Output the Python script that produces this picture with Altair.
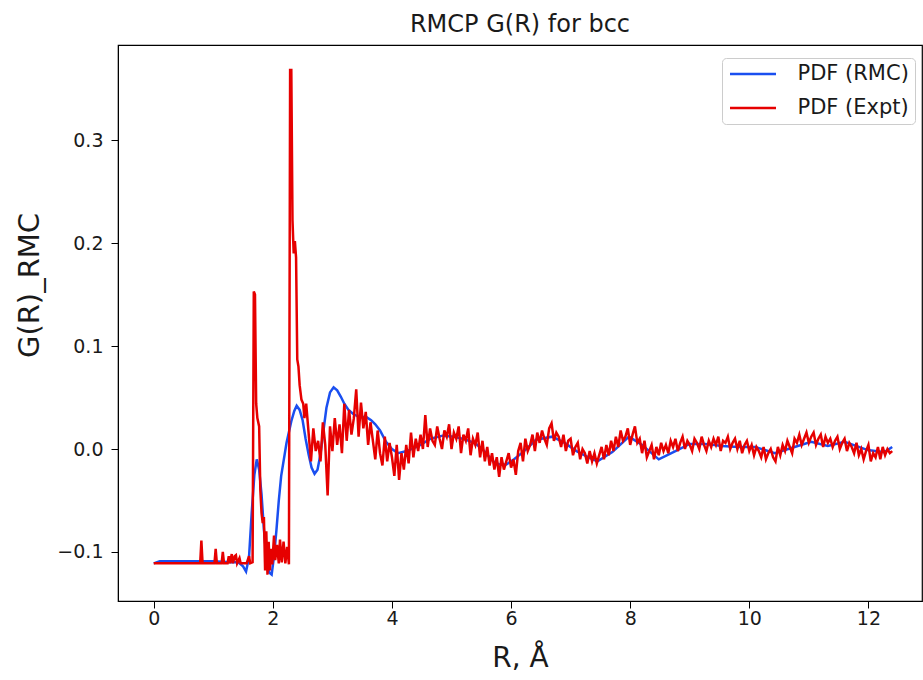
import altair as alt
import numpy as np
import pandas as pd

# ---- PDF (RMC): smooth model curve ----
rmc_r = [0.00, 0.10, 0.30, 0.60, 1.00, 1.30, 1.42, 1.50, 1.55, 1.60, 1.645, 1.69, 1.73, 1.77, 1.81,
         1.85, 1.89, 1.94, 1.98, 2.02, 2.06, 2.10, 2.14, 2.23, 2.31, 2.36, 2.40, 2.45, 2.50, 2.55,
         2.60, 2.65, 2.70, 2.75, 2.80, 2.85, 2.90, 2.96, 3.02, 3.08, 3.14, 3.20, 3.27, 3.35, 3.45,
         3.57, 3.65, 3.72, 3.80, 3.90, 4.00, 4.10, 4.25, 4.45, 4.65, 4.85, 5.05, 5.25, 5.41, 5.55,
         5.70, 5.80, 5.92, 6.05, 6.20, 6.42, 6.69, 6.90, 7.10, 7.30, 7.45, 7.70, 7.98, 8.20, 8.48,
         8.76, 9.00, 9.26, 9.54, 9.82, 10.10, 10.43, 10.76, 11.04, 11.32, 11.60, 11.99, 12.27, 12.40]
rmc_g = [-0.111, -0.109, -0.109, -0.109, -0.109, -0.110, -0.110, -0.114, -0.119, -0.105, -0.062,
         -0.025, -0.010, -0.020, -0.044, -0.078, -0.104, -0.120, -0.122, -0.104, -0.079, -0.050,
         -0.026, 0.006, 0.027, 0.037, 0.042, 0.038, 0.028, 0.010, -0.005, -0.018, -0.024, -0.020,
         -0.005, 0.018, 0.040, 0.055, 0.060, 0.057, 0.051, 0.044, 0.038, 0.034, 0.031, 0.031, 0.028,
         0.024, 0.018, 0.007, 0.000, -0.004, -0.002, 0.003, 0.010, 0.013, 0.012, 0.009, 0.005,
         -0.002, -0.012, -0.015, -0.015, -0.010, -0.003, 0.009, 0.012, 0.006, -0.002, -0.008,
         -0.012, -0.003, 0.012, 0.004, -0.010, -0.002, 0.005, 0.005, 0.003, 0.002, 0.002, -0.004,
         0.002, 0.007, 0.003, 0.007, -0.001, -0.003, 0.002]

# ---- PDF (Expt): noisy experimental curve, first part (irregular spacing) ----
expt_r_head = [0.00, 0.78, 0.80, 0.82, 1.02, 1.04, 1.06, 1.14, 1.16, 1.18, 1.24, 1.26, 1.28, 1.31,
               1.33, 1.36, 1.38, 1.40, 1.44, 1.46, 1.56, 1.60, 1.62, 1.66, 1.68, 1.70, 1.72, 1.74,
               1.77, 1.79, 1.81, 1.83, 1.85, 1.87, 1.89, 1.91, 1.93, 1.95, 1.97, 1.99, 2.02, 2.04,
               2.07, 2.10, 2.12, 2.15, 2.18, 2.21, 2.24, 2.27, 2.29, 2.31, 2.33, 2.35, 2.37, 2.39,
               2.41, 2.43, 2.45, 2.48, 2.51, 2.53, 2.56]
expt_g_head = [-0.111, -0.111, -0.089, -0.111, -0.111, -0.097, -0.111, -0.111, -0.100, -0.111,
               -0.111, -0.104, -0.111, -0.102, -0.111, -0.104, -0.103, -0.111, -0.106, -0.111,
               -0.111, -0.104, -0.111, -0.110, 0.153, 0.150, 0.044, 0.030, 0.022, -0.040, -0.062,
               -0.072, -0.066, -0.118, -0.080, -0.122, -0.090, -0.118, -0.097, -0.112, -0.084,
               -0.108, -0.093, -0.111, -0.088, -0.110, -0.090, -0.111, -0.095, -0.112, 0.368,
               0.368, 0.222, 0.190, 0.202, 0.186, 0.087, 0.080, 0.062, 0.048, 0.044, 0.030, 0.044]

# second part: sampled every 0.04 from R = 2.60
expt_tail_start = 2.60
expt_tail_step = 0.04
expt_g_tail = [
    0.016, -0.012, 0.020, -0.002, 0.008, -0.012, 0.026, 0.004, -0.045, 0.022,
    -0.002, 0.030, 0.004, 0.024, -0.004, 0.044, 0.008, 0.038, 0.014, 0.030,
    0.058, 0.012, 0.045, 0.020, 0.036, 0.004, 0.026, 0.008, -0.010, 0.018,
    -0.004, -0.016, 0.012, -0.012, 0.006, -0.008, -0.026, 0.004, -0.030, -0.004,
    -0.020, 0.004, -0.014, 0.016, -0.008, 0.010, -0.002, 0.014, 0.000, 0.033,
    0.002, 0.020, 0.008, 0.004, 0.022, 0.010, 0.000, 0.018, 0.012, 0.024,
    0.000, 0.016, 0.010, 0.022, -0.004, 0.014, 0.008, 0.020, -0.006, 0.010,
    0.004, 0.016, -0.008, 0.008, -0.012, 0.002, -0.016, -0.004, -0.020, -0.008,
    -0.027, -0.008, -0.020, -0.012, -0.004, -0.018, -0.010, -0.025, -0.002, 0.006,
    -0.012, 0.010, -0.002, 0.004, 0.014, -0.002, 0.016, 0.006, 0.018, 0.010,
    0.004, 0.020, 0.025, 0.008, 0.016, 0.012, 0.002, 0.014, -0.002, 0.008,
    0.010, -0.006, 0.002, 0.006, -0.010, 0.000, -0.004, -0.014, -0.002, -0.012,
    -0.004, -0.014, -0.006, 0.002, -0.010, 0.004, -0.006, 0.008, -0.002, 0.012,
    0.002, 0.018, 0.008, 0.012, 0.020, 0.004, 0.014, 0.022, 0.006, 0.010,
    -0.004, 0.008, -0.008, -0.002, 0.004, -0.010, 0.002, -0.006, 0.006, -0.002,
    0.004, -0.004, 0.008, 0.002, 0.010, -0.002, 0.006, 0.012, 0.000, 0.008,
    0.004, -0.002, 0.010, 0.006, 0.000, 0.012, 0.004, -0.002, 0.008, 0.002,
    0.010, 0.004, 0.012, -0.002, 0.008, 0.006, 0.012, 0.000, 0.006, 0.010,
    0.000, 0.008, -0.004, 0.004, 0.008, -0.002, 0.004, -0.006, 0.002, -0.002,
    -0.008, 0.002, -0.010, -0.004, 0.000, -0.008, -0.012, 0.002, -0.006, 0.004,
    -0.002, 0.008, 0.002, -0.004, 0.010, 0.006, 0.014, 0.004, 0.010, 0.016,
    0.006, 0.012, 0.016, 0.004, 0.010, 0.014, 0.002, 0.012, 0.006, 0.010,
    0.002, 0.008, 0.012, 0.000, 0.006, 0.010, -0.002, 0.006, 0.002, -0.004,
    0.006, -0.006, 0.000, -0.010, -0.002, 0.004, -0.012, -0.004, -0.008, 0.002,
    -0.010, 0.002, -0.006, 0.000, -0.004, -0.002,
]

series_names = ["PDF (RMC)", "PDF (Expt)"]
series_colors = ["#1a4ff0", "#e60000"]

expt_r_tail = list(np.round(expt_tail_start + expt_tail_step * np.arange(len(expt_g_tail)), 2))

df_rmc = pd.DataFrame({"R": rmc_r, "G": rmc_g, "series": series_names[0]})
df_expt = pd.DataFrame({"R": expt_r_head + expt_r_tail,
                        "G": expt_g_head + expt_g_tail,
                        "series": series_names[1]})

FONT = "DejaVu Sans"
TXT = "#1a1a1a"

x_enc = alt.X("R:Q",
              scale=alt.Scale(domain=[-0.6, 12.9], nice=False, zero=False),
              axis=alt.Axis(title="R, Å", values=[0, 2, 4, 6, 8, 10, 12], format="d",
                            labelPadding=1, titlePadding=16, titleFontSize=28))
y_enc = alt.Y("G:Q",
              scale=alt.Scale(domain=[-0.1476, 0.3924], nice=False, zero=False),
              axis=alt.Axis(title="G(R)_RMC", values=[-0.1, 0.0, 0.1, 0.2, 0.3], format=".1f",
                            labelPadding=8, titleFontSize=29, titleAngle=270,
                            titleX=-89, titleY=240, titleAlign="center",
                            titleBaseline="middle"))
color_enc = alt.Color("series:N",
                      scale=alt.Scale(domain=series_names, range=series_colors),
                      legend=alt.Legend(title=None, orient="none", legendX=604, legendY=13,
                                        symbolType="M-4.6,0H4.6", symbolSize=100,
                                        symbolStrokeWidth=2.5, symbolOffset=15,
                                        labelFontSize=21, labelFont=FONT, labelColor=TXT,
                                        labelOffset=34, rowPadding=12,
                                        padding=5.5, strokeColor="#cccccc",
                                        fillColor="white", cornerRadius=4))

blue = alt.Chart(df_rmc).mark_line(strokeWidth=2.5, clip=True).encode(x=x_enc, y=y_enc, color=color_enc)
red = alt.Chart(df_expt).mark_line(strokeWidth=2.5, clip=True).encode(x=x_enc, y=y_enc, color=color_enc)

chart = alt.layer(blue, red).properties(
    width=804, height=556,
    title=alt.TitleParams("RMCP G(R) for bcc", fontSize=24, font=FONT, fontWeight="normal",
                          anchor="middle", frame="group", offset=8, color=TXT),
    autosize=alt.AutoSizeParams(type="none"),
    padding={"left": 118, "top": 45, "right": 1, "bottom": 79},
).configure_view(
    stroke="black", strokeWidth=1.2
).configure_axis(
    grid=False, domainColor="black", tickColor="black", tickSize=7,
    labelFont=FONT, labelFontSize=19, labelColor=TXT,
    titleFont=FONT, titleFontWeight="normal", titleColor=TXT,
)

chart.save("out.html", embed_options={"renderer": "svg", "actions": False})
